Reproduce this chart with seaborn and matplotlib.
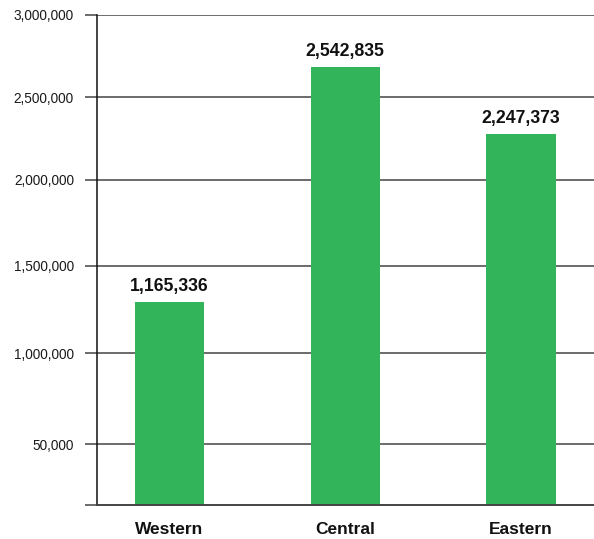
import matplotlib
matplotlib.use("Agg")
import matplotlib.pyplot as plt
import seaborn as sns
import pandas as pd

# Data (bar heights as drawn on the chart's axis scale; labels as printed)
regions = ["Western", "Central", "Eastern"]
bar_heights = [1244700, 2683500, 2269600]
bar_labels = ["1,165,336", "2,542,835", "2,247,373"]
tick_positions = [0, 371600, 928800, 1465100, 1989800, 2496100, 3000000]
tick_labels = ["", "50,000", "1,000,000", "1,500,000", "2,000,000", "2,500,000", "3,000,000"]

df = pd.DataFrame({"region": regions, "value": bar_heights})

sns.set_theme(style="white")
plt.rcParams["font.family"] = ["Liberation Sans", "DejaVu Sans"]

W, H = 594, 539
fig = plt.figure(figsize=(W / 100, H / 100), dpi=100)
left, right, top, bottom = 97, 594, 15, 505
ax = fig.add_axes([left / W, (H - bottom) / H, (right - left) / W, (bottom - top) / H])

sns.barplot(data=df, x="region", y="value", order=regions, color="#32B55A",
            saturation=1, width=0.395, linewidth=0, ax=ax, zorder=3)

ax.set_ylim(0, 3000000)
ax.set_xlim(-0.4125, 2.415)
ax.set_yticks(tick_positions)
ax.set_yticklabels(tick_labels)
ax.set_xlabel("")
ax.set_ylabel("")

for p in tick_positions[1:]:
    ax.axhline(p, color="#444444", lw=1.1, zorder=1)

for sp in ["top", "right"]:
    ax.spines[sp].set_visible(False)
ax.spines["left"].set_color("#111111")
ax.spines["left"].set_linewidth(1.1)
ax.spines["left"].set_zorder(4)
ax.spines["bottom"].set_color("#444444")
ax.spines["bottom"].set_linewidth(1.4)
ax.spines["bottom"].set_zorder(4)

ax.tick_params(axis="y", which="both", left=True, length=8.6, width=1.1,
               color="#444444", pad=8.0, labelsize=9.8, labelcolor="#1a1a1a")
ax.tick_params(axis="x", length=0, pad=12, labelsize=12.5)
for t in ax.get_xticklabels():
    t.set_fontweight("bold")
    t.set_color("#111111")

for i, (h, lab) in enumerate(zip(bar_heights, bar_labels)):
    ax.annotate(lab, (i, h), xytext=(0, 5), textcoords="offset points",
                ha="center", va="bottom", fontsize=12.7, fontweight="bold",
                color="#111111")

fig.savefig("out.png", dpi=100)
